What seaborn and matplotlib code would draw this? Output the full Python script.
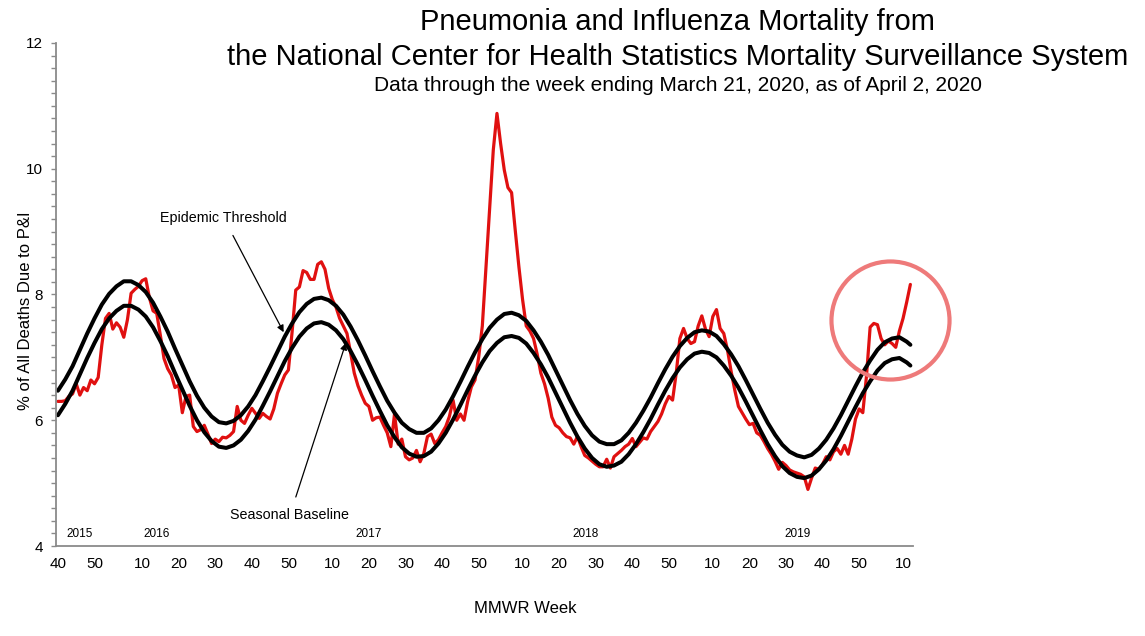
import matplotlib
matplotlib.use('Agg')
import matplotlib.pyplot as plt
from matplotlib.ticker import MultipleLocator
import seaborn as sns
import pandas as pd
import numpy as np

# weekly % of all deaths due to P&I, MMWR week 40/2015 .. week 12/2020
pi_pct = [
    6.30, 6.30, 6.31, 6.38, 6.42, 6.58, 6.40, 6.52, 6.47, 6.64,
    6.58, 6.68, 7.20, 7.62, 7.70, 7.45, 7.55, 7.48, 7.32, 7.60,
    8.02, 8.08, 8.13, 8.22, 8.25, 7.95, 7.74, 7.70, 7.35, 6.98,
    6.82, 6.72, 6.52, 6.56, 6.12, 6.38, 6.40, 5.90, 5.82, 5.85,
    5.92, 5.78, 5.63, 5.70, 5.66, 5.73, 5.72, 5.76, 5.82, 6.22,
    6.00, 5.95, 6.08, 6.19, 6.11, 6.03, 6.11, 6.06, 6.02, 6.18,
    6.43, 6.58, 6.72, 6.80, 7.40, 8.07, 8.12, 8.38, 8.35, 8.24,
    8.24, 8.48, 8.52, 8.40, 8.10, 7.92, 7.80, 7.62, 7.50, 7.38,
    7.07, 6.75, 6.55, 6.40, 6.27, 6.22, 6.00, 6.04, 6.05, 5.92,
    5.80, 5.58, 6.10, 5.62, 5.70, 5.42, 5.37, 5.40, 5.52, 5.34,
    5.47, 5.74, 5.78, 5.63, 5.69, 5.80, 5.90, 6.06, 6.32, 6.00,
    6.10, 6.00, 6.30, 6.53, 6.64, 7.00, 7.50, 8.44, 9.38, 10.30,
    10.88, 10.40, 9.98, 9.70, 9.62, 9.02, 8.44, 7.92, 7.50, 7.42,
    7.30, 7.05, 6.75, 6.58, 6.35, 6.05, 5.92, 5.88, 5.80, 5.74,
    5.72, 5.62, 5.74, 5.58, 5.44, 5.40, 5.35, 5.30, 5.26, 5.26,
    5.38, 5.24, 5.42, 5.47, 5.52, 5.58, 5.62, 5.71, 5.58, 5.65,
    5.72, 5.70, 5.82, 5.90, 5.98, 6.10, 6.26, 6.38, 6.32, 6.75,
    7.30, 7.46, 7.30, 7.22, 7.25, 7.50, 7.66, 7.45, 7.33, 7.65,
    7.76, 7.46, 7.38, 7.12, 6.78, 6.48, 6.22, 6.12, 6.02, 5.93,
    5.95, 5.80, 5.76, 5.66, 5.55, 5.46, 5.35, 5.22, 5.33, 5.28,
    5.21, 5.18, 5.16, 5.14, 5.10, 4.90, 5.08, 5.24, 5.22, 5.30,
    5.42, 5.37, 5.50, 5.55, 5.46, 5.60, 5.46, 5.70, 6.02, 6.18,
    6.12, 6.70, 7.48, 7.54, 7.52, 7.30, 7.20, 7.26, 7.22, 7.16,
    7.42, 7.62, 7.88, 8.16,
]

# baseline / threshold every 2 weeks (plus last week)
curve_idx = list(range(0, 233, 2)) + [233]
baseline = [
    6.08, 6.26, 6.47, 6.73, 6.99, 7.23, 7.45, 7.62, 7.74, 7.82,
    7.82, 7.76, 7.65, 7.48, 7.26, 7.02, 6.75, 6.49, 6.23, 6.00,
    5.81, 5.67, 5.58, 5.56, 5.60, 5.69, 5.83, 6.01, 6.23, 6.46,
    6.70, 6.94, 7.15, 7.33, 7.46, 7.54, 7.56, 7.52, 7.43, 7.29,
    7.10, 6.88, 6.64, 6.39, 6.15, 5.92, 5.73, 5.57, 5.47, 5.42,
    5.43, 5.50, 5.63, 5.80, 6.01, 6.24, 6.48, 6.71, 6.92, 7.10,
    7.23, 7.32, 7.34, 7.31, 7.22, 7.07, 6.89, 6.68, 6.44, 6.20,
    5.96, 5.74, 5.55, 5.40, 5.30, 5.26, 5.28, 5.34, 5.46, 5.62,
    5.81, 6.02, 6.25, 6.47, 6.67, 6.84, 6.97, 7.06, 7.09, 7.07,
    7.00, 6.87, 6.71, 6.52, 6.30, 6.07, 5.84, 5.62, 5.43, 5.27,
    5.16, 5.10, 5.08, 5.12, 5.22, 5.36, 5.54, 5.75, 5.98, 6.21,
    6.43, 6.62, 6.79, 6.91, 6.97, 6.99, 6.92, 6.87,
]
threshold = [
    6.47, 6.65, 6.86, 7.12, 7.38, 7.62, 7.84, 8.01, 8.13, 8.21,
    8.21, 8.15, 8.04, 7.87, 7.65, 7.41, 7.14, 6.88, 6.62, 6.39,
    6.20, 6.06, 5.97, 5.95, 5.99, 6.08, 6.22, 6.40, 6.62, 6.85,
    7.09, 7.33, 7.54, 7.72, 7.85, 7.93, 7.95, 7.91, 7.82, 7.68,
    7.49, 7.27, 7.03, 6.78, 6.54, 6.31, 6.12, 5.96, 5.86, 5.80,
    5.80, 5.87, 6.00, 6.17, 6.38, 6.61, 6.85, 7.08, 7.29, 7.47,
    7.60, 7.69, 7.71, 7.67, 7.58, 7.43, 7.25, 7.04, 6.80, 6.56,
    6.32, 6.10, 5.91, 5.76, 5.66, 5.62, 5.62, 5.68, 5.80, 5.96,
    6.15, 6.36, 6.59, 6.81, 7.01, 7.18, 7.31, 7.40, 7.43, 7.41,
    7.34, 7.21, 7.05, 6.86, 6.64, 6.41, 6.18, 5.96, 5.77, 5.61,
    5.50, 5.44, 5.41, 5.45, 5.55, 5.69, 5.87, 6.08, 6.31, 6.54,
    6.76, 6.95, 7.12, 7.24, 7.30, 7.32, 7.25, 7.20,
]

# MMWR weeks covered by each year
first_week = [40, 1, 1, 1, 1, 1]
last_week = [53, 52, 52, 52, 52, 12]
mmwr_week = []
for fw, lw in zip(first_week, last_week):
    mmwr_week += list(range(fw, lw + 1))

year_labels = ['2015', '2016', '2017', '2018', '2019']
year_label_x = [5.8, 27.0, 85.0, 144.2, 202.1]

df = pd.DataFrame({'week': np.arange(len(pi_pct)), 'pct': pi_pct})
curves = pd.DataFrame({'week': curve_idx, 'baseline': baseline, 'threshold': threshold})

sns.set_style('white')
plt.rcParams['font.family'] = ['Liberation Sans', 'DejaVu Sans']
plt.rcParams['text.color'] = 'black'
plt.rcParams['axes.labelcolor'] = 'black'
plt.rcParams['xtick.labelcolor'] = 'black'
plt.rcParams['ytick.labelcolor'] = 'black'

fig = plt.figure(figsize=(11.45, 6.36), dpi=100)
ax = fig.add_axes([0.049, 0.1415, 0.748, 0.7909])

sns.lineplot(x='week', y='pct', data=df, color='#E01010', linewidth=2.3, ax=ax)
sns.lineplot(x='week', y='threshold', data=curves, color='black', linewidth=2.9, ax=ax)
sns.lineplot(x='week', y='baseline', data=curves, color='black', linewidth=2.9, ax=ax)

ax.set_xlim(-0.5, 233.6)
ax.set_ylim(4, 12)

tick_pos = [i for i, w in enumerate(mmwr_week) if w % 10 == 0]
ax.set_xticks(tick_pos)
ax.set_xticklabels([str(mmwr_week[i]) for i in tick_pos])
ax.set_yticks([4, 6, 8, 10, 12])
ax.yaxis.set_minor_locator(MultipleLocator(0.2))
ax.tick_params(axis='x', length=0, pad=8, labelsize=11, labelcolor='black')
ax.tick_params(axis='y', which='both', direction='out', length=3.5, width=1,
               color='#8a8a8a', left=True, labelsize=11, pad=6, labelcolor='black')

for s in ['top', 'right']:
    ax.spines[s].set_visible(False)
for s in ['left', 'bottom']:
    ax.spines[s].set_color('#8a8a8a')
    ax.spines[s].set_linewidth(1.3)

ax.set_xlabel('MMWR Week', fontsize=12)
ax.xaxis.set_label_coords(0.548, -0.11)
ax.set_ylabel('% of All Deaths Due to P&I', fontsize=12)
ax.yaxis.set_label_coords(-0.027, 0.467)

for lab, xp in zip(year_labels, year_label_x):
    ax.text(xp, 4.19, lab, ha='center', va='center', fontsize=8.5)

ax.annotate('Epidemic Threshold', xy=(61.7, 7.40), xytext=(45.3, 9.22),
            ha='center', va='center', fontsize=10.3,
            arrowprops=dict(arrowstyle='-|>', color='black', lw=0.9,
                            mutation_scale=10, shrinkA=6, shrinkB=0))
ax.annotate('Seasonal Baseline', xy=(78.7, 7.23), xytext=(63.4, 4.49),
            ha='center', va='center', fontsize=10.3,
            arrowprops=dict(arrowstyle='-|>', color='black', lw=0.9,
                            mutation_scale=10, shrinkA=6, shrinkB=0))

# highlight circle around the latest weeks
ax.plot([227.3], [7.60], marker='o', markersize=85, markerfacecolor='none',
        markeredgecolor='#EE7A7A', markeredgewidth=3.0, clip_on=False)

fig.text(0.592, 0.965, 'Pneumonia and Influenza Mortality from',
         ha='center', va='center', fontsize=21)
fig.text(0.592, 0.910, 'the National Center for Health Statistics Mortality Surveillance System',
         ha='center', va='center', fontsize=21)
fig.text(0.592, 0.866, 'Data through the week ending March 21, 2020, as of April 2, 2020',
         ha='center', va='center', fontsize=15)

fig.savefig('out.png', dpi=100)
